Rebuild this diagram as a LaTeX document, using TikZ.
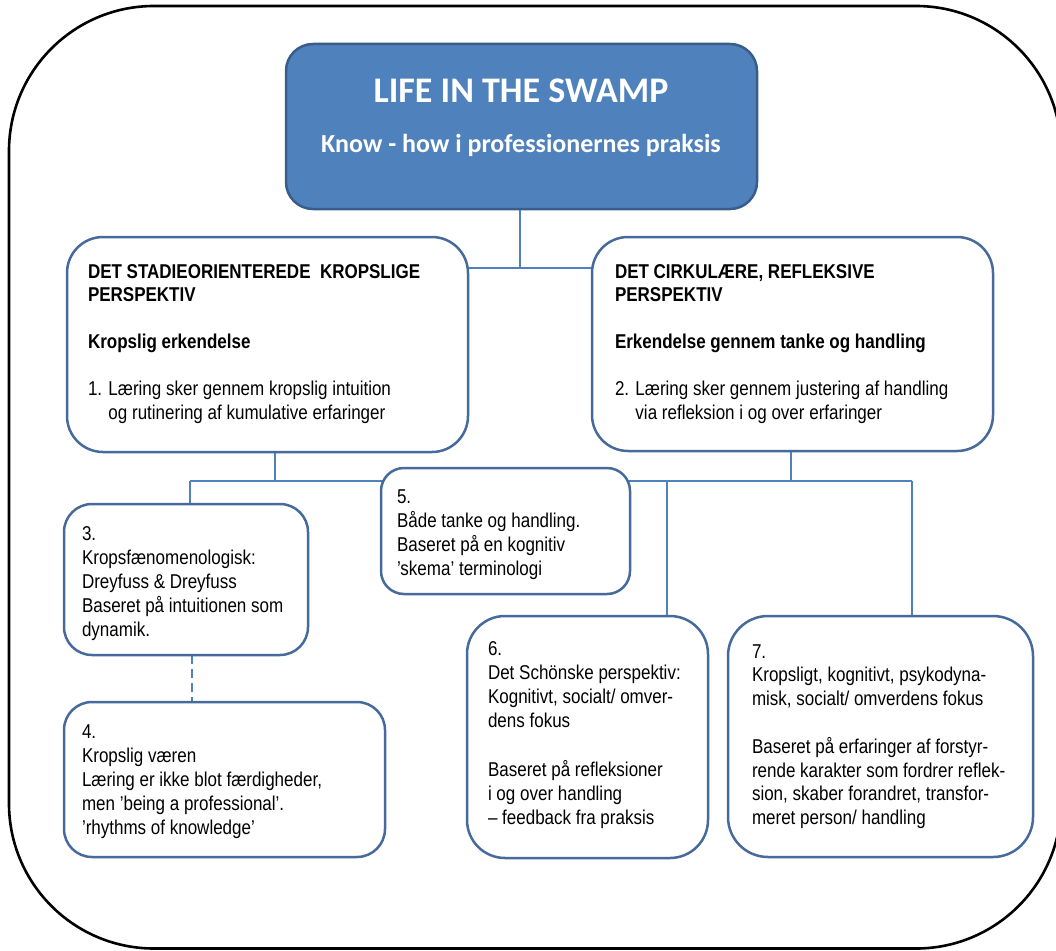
\documentclass[tikz,border=0pt]{standalone}
\usepackage{fontspec}
\setmainfont{Liberation Sans}[FakeStretch=0.85]
\newfontfamily\titlefamily{Carlito}
\usetikzlibrary{backgrounds}

\definecolor{swampblue}{RGB}{79,129,189}
\definecolor{swampedge}{RGB}{56,93,138}
\definecolor{boxedge}{RGB}{70,106,156}
\definecolor{linkblue}{RGB}{79,129,189}

\newcommand\bodyfont{\fontsize{20}{24.2}\selectfont}
\newcommand\headfont{\fontsize{20}{23.5}\selectfont}

\begin{document}
\begin{tikzpicture}[x=1pt, y=-1pt, line join=round,
  box/.style={draw=boxedge, line width=2.5pt, fill=white, inner sep=0pt, outer sep=0pt},
  conn/.style={draw=linkblue, line width=2pt},
  dashconn/.style={conn, dash pattern=on 9pt off 5pt},
  txt/.style={anchor=north west, align=left, inner sep=0pt, outer sep=0pt, text=black, font=\bodyfont},
  headtxt/.style={txt, font=\headfont},
  titletxt/.style={anchor=base, inner sep=0pt, text=white}]

\useasboundingbox (0,0) rectangle (1056,950);

% outer frame
\draw[black, line width=2.6pt, rounded corners=145pt] (9,6) rectangle (1061,948.5);

% title
\node[box, draw=swampedge, fill=swampblue, rounded corners=27pt,
      minimum width=471pt, minimum height=165pt] (title) at (521.5,126.5) {};
\node[titletxt, font=\titlefamily\bfseries\fontsize{36}{40}\selectfont] (ttl) at (521,102) {LIFE IN THE SWAMP};
\node[titletxt, font=\titlefamily\bfseries\fontsize{26}{30}\selectfont] (sub) at (521,152) {Know - how i professionernes praksis};

% the two perspectives
\node[box, rounded corners=36pt, minimum width=401pt, minimum height=215pt] (A) at (267.5,344.5) {};
\node[headtxt] (Atext) at (88,261.55) {\strut\textbf{DET STADIEORIENTEREDE~ KROPSLIGE}\\
  \textbf{PERSPEKTIV}\\[23.5pt]
  \textbf{Kropslig erkendelse}\\[23.5pt]
  1. Læring sker gennem kropslig intuition\\
  \phantom{1. }og rutinering af kumulative erfaringer};

\node[box, rounded corners=36pt, minimum width=401pt, minimum height=214pt] (B) at (792.5,344) {};
\node[headtxt] (Btext) at (615,261.55) {\strut\textbf{DET CIRKULÆRE, REFLEKSIVE}\\
  \textbf{PERSPEKTIV}\\[23.5pt]
  \textbf{Erkendelse gennem tanke og handling}\\[23.5pt]
  2. Læring sker gennem justering af handling\\
  \phantom{2. }via refleksion i og over erfaringer};

% numbered boxes
\node[box, rounded corners=28pt, minimum width=244pt, minimum height=151pt] (b3) at (186,579.5) {};
\node[txt] (t3) at (82,523.06) {\strut 3.\\
  Kropsfænomenologisk:\\
  Dreyfuss \& Dreyfuss\\
  Baseret på intuitionen som\\
  dynamik.};

\node[box, rounded corners=28pt, minimum width=321pt, minimum height=155pt] (b4) at (224.5,779.5) {};
\node[txt] (t4) at (82,721.06) {\strut 4.\\
  Kropslig væren\\
  Læring er ikke blot færdigheder,\\
  men 'being a professional'.\\
  'rhythms of knowledge'};

\node[box, rounded corners=23pt, minimum width=249pt, minimum height=126pt] (b5) at (505.5,531) {};
\node[txt] (t5) at (397,486.06) {\strut 5.\\
  Både tanke og handling.\\
  Baseret på en kognitiv\\
  'skema' terminologi};

\node[box, rounded corners=38pt, minimum width=241pt, minimum height=242pt] (b6) at (587.5,737) {};
\node[txt] (t6) at (488,638.06) {\strut 6.\\
  Det Schönske perspektiv:\\
  Kognitivt, socialt/ omver-\\
  dens fokus\\[24.2pt]
  Baseret på refleksioner\\
  i og over handling\\
  – feedback fra praksis};

\node[box, rounded corners=40pt, minimum width=305pt, minimum height=241pt] (b7) at (880.5,736.5) {};
\node[txt, font=\fontsize{20}{23.8}\selectfont] (t7) at (752,641.34) {\strut 7.\\
  Kropsligt, kognitivt, psykodyna-\\
  misk, socialt/ omverdens fokus\\[23.8pt]
  Baseret på erfaringer af forstyr-\\
  rende karakter som fordrer reflek-\\
  sion, skaber forandret, transfor-\\
  meret person/ handling};

% junction points of the tree
\coordinate (jT) at (520,268);
\coordinate (jA) at (275,481);
\coordinate (jB) at (791,481);
\coordinate (k3) at (190,481);
\coordinate (k6) at (667,481);
\coordinate (k7) at (912,481);
\coordinate (d34) at (192,0);

% connectors behind the boxes
\begin{scope}[on background layer]
  \draw[conn] (title.south -| jT) -- (jT);
  \draw[conn] (A.east |- jT) -- (B.west |- jT);
  \draw[conn] (A.south -| jA) -- (jA);
  \draw[conn] (B.south -| jB) -- (jB);
  \draw[conn] (k3) -- (k7);
  \draw[conn] (k3) -- (b3.north -| k3);
  \draw[conn] (k6) -- (b6.north -| k6);
  \draw[conn] (k7) -- (b7.north -| k7);
  \draw[dashconn] (b3.south -| d34) -- (b4.north -| d34);
\end{scope}
\end{tikzpicture}
\end{document}
